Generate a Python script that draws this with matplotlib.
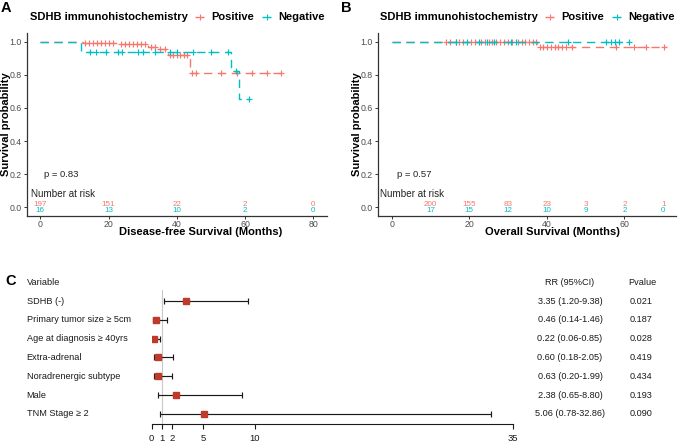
import numpy as np
import matplotlib
matplotlib.use('Agg')
import matplotlib.pyplot as plt
from matplotlib.lines import Line2D
from matplotlib import transforms

plt.rcParams['font.family'] = ['Liberation Sans', 'DejaVu Sans']

# ---------------- data ----------------
groups = ['Positive', 'Negative']
legend_title = 'SDHB immunohistochemistry'

# Panel A: disease-free survival
dfs_pos_times = [0, 12.5, 22.7, 31.6, 34.5, 37.3, 43.8]
dfs_pos_surv = [1.0, 0.99, 0.985, 0.97, 0.955, 0.92, 0.81]
dfs_pos_end = 70.6
dfs_pos_censor = [13, 14.2, 15.4, 16.6, 17.8, 19, 20.2, 21.4, 23.5, 24.7, 25.9, 27.1, 28.3,
                  29.5, 30.7, 32.5, 33.7, 35.2, 36.4, 38, 39, 40, 41, 42, 43,
                  44.5, 45.7, 53, 57.5, 62, 66.3, 70.6]
dfs_neg_times = [0, 12, 56, 58.3]
dfs_neg_surv = [1.0, 0.9375, 0.82, 0.656]
dfs_neg_end = 61
dfs_neg_censor = [14.5, 16.4, 19.2, 22.8, 24, 28.6, 30.1, 33.5, 37.9, 39.9, 44.7, 50, 55, 57.3, 61]

# Panel B: overall survival
os_pos_times = [0, 37.6]
os_pos_surv = [1.0, 0.966]
os_pos_end = 70.7
os_pos_censor = [14, 15, 16.5, 17.5, 18.5, 20.5, 21.5, 23, 24, 25, 26, 27, 28, 29, 30, 31,
                 32.5, 33.5, 34.5, 35.5, 36.5, 37.2, 38.3, 39, 40, 41, 42, 43, 44, 45,
                 46.5, 57.8, 62.6, 65.6, 70.3]
os_neg_times = [0]
os_neg_surv = [1.0]
os_neg_end = 61.3
os_neg_censor = [16.6, 19.5, 22.6, 24.6, 26.5, 30.8, 32.1, 45.4, 55.3, 56.5, 57.5, 58.7, 61.3]

# Number at risk
dfs_risk_times = [0, 20, 40, 60, 80]
dfs_risk_pos = [197, 151, 22, 2, 0]
dfs_risk_neg = [16, 13, 10, 2, 0]
os_risk_times = [10, 20, 30, 40, 50, 60, 70]
os_risk_pos = [200, 155, 83, 23, 3, 2, 1]
os_risk_neg = [17, 15, 12, 10, 9, 2, 0]

dfs_p = 'p = 0.83'
os_p = 'p = 0.57'

# Panel C: forest plot
variables = ['SDHB (-)', 'Primary tumor size \u2265 5cm', 'Age at diagnosis \u2265 40yrs',
             'Extra-adrenal', 'Noradrenergic subtype', 'Male', 'TNM Stage \u2265 2']
rr = [3.35, 0.46, 0.22, 0.60, 0.63, 2.38, 5.06]
ci_low = [1.20, 0.14, 0.06, 0.18, 0.20, 0.65, 0.78]
ci_high = [9.38, 1.46, 0.85, 2.05, 1.99, 8.80, 32.86]
pvalues = ['0.021', '0.187', '0.028', '0.419', '0.434', '0.193', '0.090']
forest_ticks = [0, 1, 2, 5, 10, 35]

# ---------------- figure ----------------
W, H = 679, 443
fig = plt.figure(figsize=(W / 100, H / 100), dpi=100)


def box(l, t, r, b):
    return [l / W, 1 - b / H, (r - l) / W, (b - t) / H]


def fx(px):
    return px / W


def fy(py):
    return 1 - py / H


POS = '#F8766D'
NEG = '#00BFC4'
AXC = '#333333'
TICKC = '#4D4D4D'
LW = 1.0
DASH = (0, (6.0, 4.0))


def km(ax, times, surv, end, censor, color):
    xs = list(times) + [end]
    ys = list(surv) + [surv[-1]]
    ax.step(xs, ys, where='post', color=color, lw=LW, linestyle=DASH)
    t = np.asarray(times)
    s = np.asarray(surv)
    idx = np.searchsorted(t, np.asarray(censor), side='right') - 1
    ax.plot(censor, s[idx], linestyle='none', marker='+', color=color,
            markersize=4.4, markeredgewidth=0.85)


def style_km(ax, xlim, xticks):
    ax.set_xlim(*xlim)
    ax.set_ylim(-0.05, 1.05)
    ax.set_xticks(xticks)
    ax.set_yticks([0, 0.2, 0.4, 0.6, 0.8, 1.0])
    ax.set_yticklabels(['0.0', '0.2', '0.4', '0.6', '0.8', '1.0'])
    for s in ['top', 'right']:
        ax.spines[s].set_visible(False)
    for s in ['left', 'bottom']:
        ax.spines[s].set_color(AXC)
        ax.spines[s].set_linewidth(0.9)
    ax.tick_params(axis='both', colors=AXC, labelcolor=TICKC, labelsize=6.3,
                   length=2.2, width=0.7)
    ax.tick_params(axis='y', pad=1.5)
    ax.tick_params(axis='x', pad=1.0)
    ax.patch.set_visible(False)


def legend(x_title, x_k1, x_l1, x_k2, x_l2, yc):
    fig.text(fx(x_title), fy(yc), legend_title, fontsize=8, fontweight='bold',
             ha='left', va='center')
    for xk, xl, col, lab in [(x_k1, x_l1, POS, groups[0]), (x_k2, x_l2, NEG, groups[1])]:
        fig.add_artist(Line2D([fx(xk - 5), fx(xk + 5)], [fy(yc), fy(yc)],
                              transform=fig.transFigure, color=col, lw=LW,
                              linestyle=(0, (2, 2.5))))
        fig.add_artist(Line2D([fx(xk)], [fy(yc)], transform=fig.transFigure,
                              color=col, marker='+', markersize=4.4, markeredgewidth=0.85,
                              linestyle='none'))
        fig.text(fx(xl), fy(yc), lab, fontsize=8, fontweight='bold', ha='left', va='center')


RISKFS = 5.8

# ---- Panel A ----
axA = fig.add_axes(box(26.7, 33.4, 327, 215.6))
km(axA, dfs_pos_times, dfs_pos_surv, dfs_pos_end, dfs_pos_censor, POS)
km(axA, dfs_neg_times, dfs_neg_surv, dfs_neg_end, dfs_neg_censor, NEG)
style_km(axA, (-4, 84), [0, 20, 40, 60, 80])
for t, n in zip(dfs_risk_times, dfs_risk_pos):
    axA.text(t, 0.016, str(n), color=POS, fontsize=RISKFS, ha='center', va='center', clip_on=False)
for t, n in zip(dfs_risk_times, dfs_risk_neg):
    axA.text(t, -0.017, str(n), color=NEG, fontsize=RISKFS, ha='center', va='center', clip_on=False)
axA.text(1.1, 0.2, dfs_p, fontsize=6.8, ha='left', va='center', color='#222222')
axA.text(-2.85, 0.08, 'Number at risk', fontsize=7.1, ha='left', va='center', color='#222222',
         clip_on=False)
fig.text(fx(6), fy(124.5), 'Survival probability', rotation=90, fontsize=8,
         fontweight='bold', ha='center', va='center')
fig.text(fx(200.5), fy(232.5), 'Disease-free Survival (Months)', fontsize=8,
         fontweight='bold', ha='center', va='center')
fig.text(fx(1), fy(8), 'A', fontsize=10.5, fontweight='bold', ha='left', va='center')
legend(30, 200, 211, 267, 278, 17)

# ---- Panel B ----
axB = fig.add_axes(box(378, 33.4, 676, 215.6))
km(axB, os_pos_times, os_pos_surv, os_pos_end, os_pos_censor, POS)
km(axB, os_neg_times, os_neg_surv, os_neg_end, os_neg_censor, NEG)
style_km(axB, (-3.5, 73.3), [0, 20, 40, 60])
for t, n in zip(os_risk_times, os_risk_pos):
    axB.text(t, 0.016, str(n), color=POS, fontsize=RISKFS, ha='center', va='center', clip_on=False)
for t, n in zip(os_risk_times, os_risk_neg):
    axB.text(t, -0.017, str(n), color=NEG, fontsize=RISKFS, ha='center', va='center', clip_on=False)
axB.text(1.3, 0.2, os_p, fontsize=6.8, ha='left', va='center', color='#222222')
axB.text(-3.0, 0.08, 'Number at risk', fontsize=7.1, ha='left', va='center', color='#222222',
         clip_on=False)
fig.text(fx(357), fy(124.5), 'Survival probability', rotation=90, fontsize=8,
         fontweight='bold', ha='center', va='center')
fig.text(fx(552), fy(232.5), 'Overall Survival (Months)', fontsize=8,
         fontweight='bold', ha='center', va='center')
fig.text(fx(341), fy(8), 'B', fontsize=10.5, fontweight='bold', ha='left', va='center')
legend(380, 550, 561, 617, 628, 17)

# ---- Panel C ----
row_px0, row_step = 301.0, 18.83
top_px, bot_px = 290.0, 423.5
axC = fig.add_axes(box(151.7, top_px, 512.7, bot_px))
rows = np.arange(len(variables))
axC.set_xlim(0, 35)
axC.set_ylim((bot_px - row_px0) / row_step, (top_px - row_px0) / row_step)
axC.axvline(1, color='#C8C8C8', lw=0.8, zorder=0)
rr_a = np.asarray(rr)
axC.errorbar(rr_a, rows, xerr=[rr_a - np.asarray(ci_low), np.asarray(ci_high) - rr_a],
             fmt='none', ecolor='#1a1a1a', elinewidth=0.85, capsize=1.9, capthick=0.85)
axC.plot(rr_a, rows, linestyle='none', marker='s', color='#BE3B2C', markersize=5.0, zorder=3)
for s in ['top', 'right', 'left']:
    axC.spines[s].set_visible(False)
axC.spines['bottom'].set_bounds(0, 35)
axC.spines['bottom'].set_color('#1a1a1a')
axC.spines['bottom'].set_linewidth(0.8)
axC.set_xticks(forest_ticks)
axC.set_xticklabels([str(t) for t in forest_ticks])
axC.set_yticks([])
axC.tick_params(axis='x', length=3.6, width=0.8, color='#1a1a1a', labelsize=6.8,
                labelcolor='#1a1a1a', pad=4.3)
axC.patch.set_visible(False)

trC = transforms.blended_transform_factory(fig.transFigure, axC.transData)
TXT = '#1a1a1a'
FFS = 6.6
axC.text(fx(26.7), -1, 'Variable', transform=trC, fontsize=FFS, ha='left', va='center',
         color=TXT, clip_on=False)
axC.text(fx(570), -1, 'RR (95%CI)', transform=trC, fontsize=FFS, ha='center', va='center',
         color=TXT, clip_on=False)
axC.text(fx(642), -1, 'Pvalue', transform=trC, fontsize=FFS, ha='center', va='center',
         color=TXT, clip_on=False)
for i, (v, r, lo, hi, p) in enumerate(zip(variables, rr, ci_low, ci_high, pvalues)):
    axC.text(fx(26.7), i, v, transform=trC, fontsize=FFS, ha='left', va='center',
             color=TXT, clip_on=False)
    axC.text(fx(570), i, f'{r:.2f} ({lo:.2f}-{hi:.2f})', transform=trC, fontsize=FFS,
             ha='center', va='center', color=TXT, clip_on=False)
    axC.text(fx(641), i, p, transform=trC, fontsize=FFS, ha='center', va='center',
             color=TXT, clip_on=False)
fig.text(fx(5), fy(281), 'C', fontsize=10.5, fontweight='bold', ha='left', va='center')

fig.savefig('out.png', dpi=100)
